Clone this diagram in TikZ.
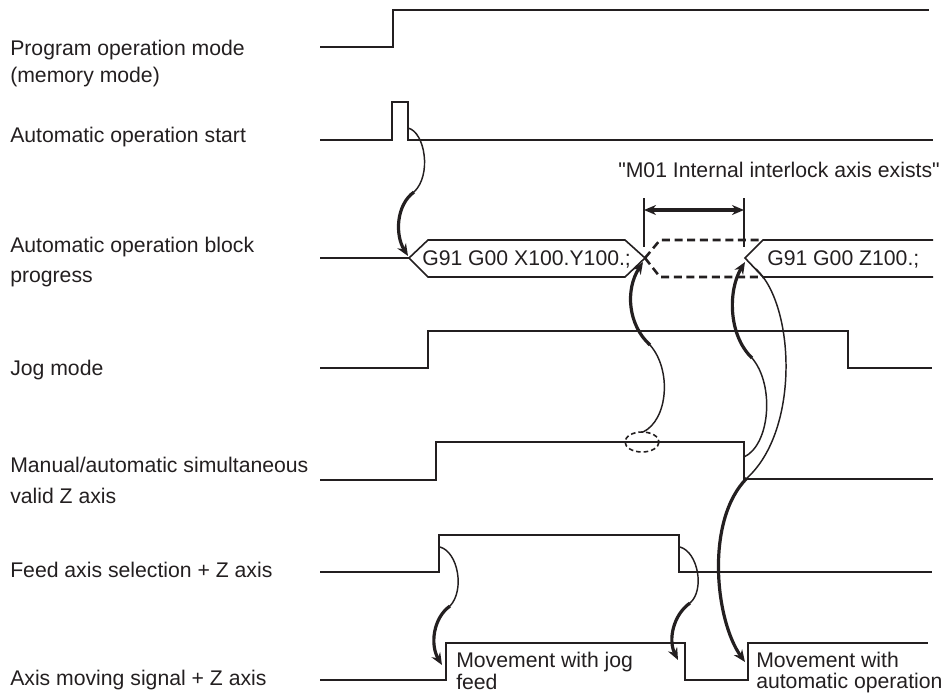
\documentclass[tikz,border=0pt]{standalone}
\usepackage{fontspec}
\setmainfont{Liberation Sans}[Ligatures=TeXOff]
\usetikzlibrary{arrows.meta}
\definecolor{ink}{RGB}{35,31,32}
\begin{document}
\begin{tikzpicture}[x=0.75pt,y=-0.75pt,
  sig/.style={draw=ink, line width=1.2pt, line join=miter},
  lbl/.style={anchor=base west, inner sep=0pt, text=ink, font=\fontsize{15.9}{19}\selectfont},
  thinarc/.style={draw=ink, line width=1.1pt},
  thickarc/.style={draw=ink, line width=2.4pt, -{Stealth[length=9pt,width=7.5pt]}},
  dashhex/.style={draw=ink, line width=1.9pt, dash pattern=on 6pt off 3.5pt},
  marker/.style={draw=ink, line width=1.4pt},
  span/.style={draw=ink, line width=2.4pt, {Stealth[length=9pt,width=7.5pt]}-{Stealth[length=9pt,width=7.5pt]}}]
\useasboundingbox (0,0) rectangle (944,693);

% ---- labels ----
\node[lbl] (l1a) at (10,55) {Program operation mode};
\node[lbl] (l1b) at (10,82) {(memory mode)};
\node[lbl] (l2) at (10,142) {Automatic operation start};
\node[lbl] (l3a) at (10,252) {Automatic operation block};
\node[lbl] (l3b) at (10,282) {progress};
\node[lbl] (l4) at (10,375) {Jog mode};
\node[lbl] (l5a) at (10,472) {Manual/automatic simultaneous};
\node[lbl] (l5b) at (10,503) {valid Z axis};
\node[lbl] (l6) at (10,577) {Feed axis selection + Z axis};
\node[lbl] (l7) at (10,685) {Axis moving signal + Z axis};

% ---- signals ----
\draw[sig] (320,47) -- (393,47) -- (393,10) -- (929,10);
\draw[sig] (320,140) -- (392,140) -- (392,102) -- (408,102) -- (408,140) -- (933,140);
% block progress
\draw[sig] (320,258) -- (409,258);
\draw[sig] (409,258) -- (428,240) -- (625,240) -- (645,258) -- (625,277) -- (428,277) -- cycle;
\draw[dashhex] (645,258) -- (660,240) -- (763,240);
\draw[dashhex] (645,258) -- (660,277) -- (763,277);
\draw[sig] (933,240) -- (763,240) -- (745,258) -- (763,277) -- (933,277);
\node[lbl] (b1) at (422,265) {G91 G00 X100.Y100.;};
\node[lbl] (b2) at (767,265) {G91 G00 Z100.;};
% interlock span
\coordinate (mL) at (644,210);
\coordinate (mR) at (744,210);
\draw[marker] (644,198) -- (644,247);
\draw[marker] (744,198) -- (744,247);
\draw[span] (mL) -- (mR);
\node[lbl] (il) at (618,177) {"M01 Internal interlock axis exists"};
% jog mode
\draw[sig] (320,368) -- (428,368) -- (428,331) -- (848,331) -- (848,368) -- (932,368);
% valid Z
\draw[sig] (320,480) -- (436,480) -- (436,442) -- (744,442) -- (744,479) -- (933,479);
\draw[draw=ink, line width=1.2pt, dash pattern=on 3.5pt off 2.2pt] (642,442) ellipse [x radius=17, y radius=10];
% feed axis selection
\draw[sig] (320,572) -- (439,572) -- (439,535) -- (679,535) -- (679,572) -- (932,572);
% axis moving
\draw[sig] (320,680) -- (446,680) -- (446,643) -- (685,643) -- (685,680) -- (748,680) -- (748,643) -- (928,643);
\node[lbl] (t1a) at (456,667) {Movement with jog};
\node[lbl] (t1b) at (456,689) {feed};
\node[lbl] (t2a) at (756,667) {Movement with};
\node[lbl] (t2b) at (756,688) {automatic operation};

% ---- cause/effect arrows ----
\coordinate (a1s) at (408,128); \coordinate (a1m) at (414,192); \coordinate (a1e) at (408,256);
\draw[thinarc] (a1s) .. controls (425,132) and (432,175) .. (a1m);
\draw[thickarc] (a1m) .. controls (396,205) and (395,235) .. (a1e);

\coordinate (a2s) at (643,432); \coordinate (a2m) at (650,345); \coordinate (a2e) at (643,262);
\draw[thinarc] (a2s) .. controls (668,420) and (672,370) .. (a2m);
\draw[thickarc] (a2m) .. controls (628,325) and (625,290) .. (a2e);

\coordinate (a3s) at (744,457); \coordinate (a3m) at (752,358); \coordinate (a3e) at (745,262);
\draw[thinarc] (a3s) .. controls (770,445) and (775,385) .. (a3m);
\draw[thickarc] (a3m) .. controls (728,335) and (728,290) .. (a3e);

\coordinate (a4s) at (756,269); \coordinate (a4m) at (747,478); \coordinate (a4e) at (745,662);
\draw[thinarc] (a4s) .. controls (795,305) and (800,430) .. (a4m);
\draw[thickarc] (a4m) .. controls (705,520) and (715,620) .. (a4e);

\coordinate (a5s) at (440,547); \coordinate (a5m) at (450,606); \coordinate (a5e) at (442,665);
\draw[thinarc] (a5s) .. controls (458,552) and (465,590) .. (a5m);
\draw[thickarc] (a5m) .. controls (433,618) and (430,645) .. (a5e);

\coordinate (a6s) at (680,547); \coordinate (a6m) at (690,603); \coordinate (a6e) at (678,660);
\draw[thinarc] (a6s) .. controls (698,552) and (705,590) .. (a6m);
\draw[thickarc] (a6m) .. controls (673,615) and (668,640) .. (a6e);
\end{tikzpicture}
\end{document}
